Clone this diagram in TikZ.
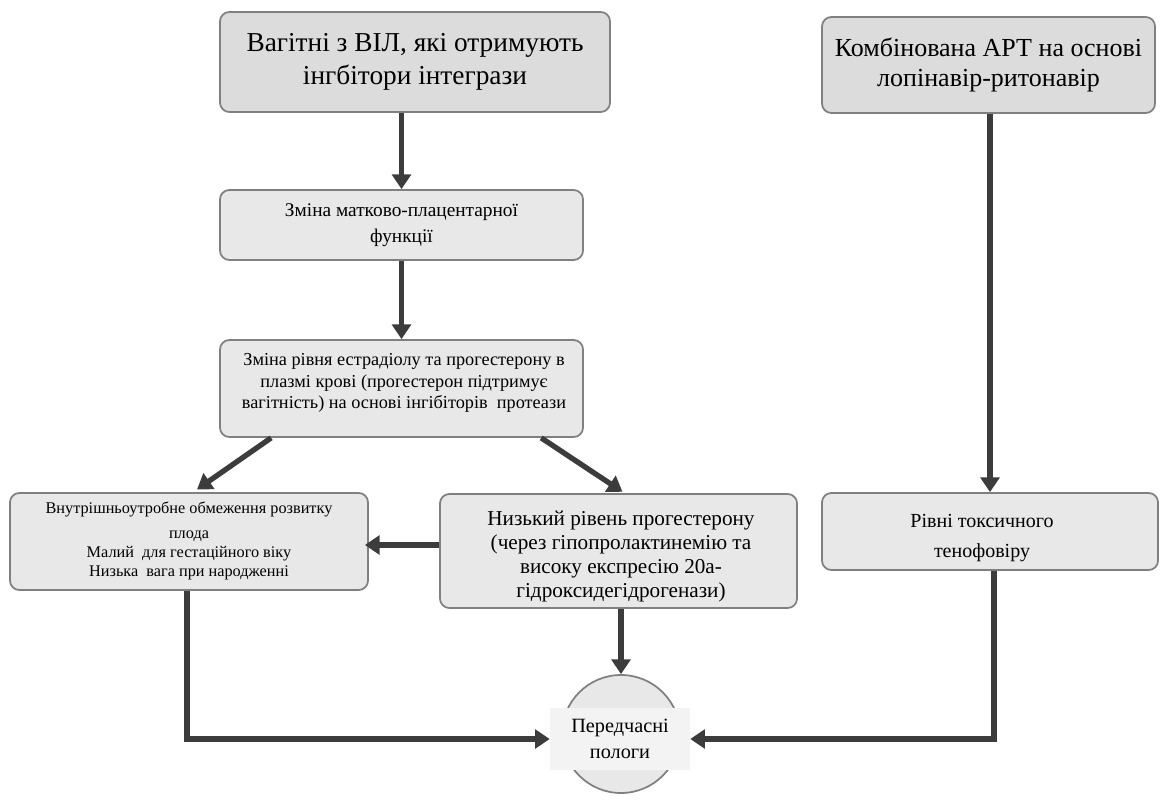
\documentclass[tikz,border=0pt]{standalone}
\usepackage{fontspec}
\newfontfamily\libser{Liberation Serif}
\usetikzlibrary{arrows.meta,shapes.geometric,calc}
\definecolor{boxfill}{HTML}{E8E8E8}
\definecolor{titlefill}{HTML}{DCDCDC}
\definecolor{boxline}{HTML}{808080}
\definecolor{arrowcol}{HTML}{3C3C3C}
\tikzset{
  box/.style={draw=boxline, line width=1.3pt, rounded corners=7pt, fill=boxfill, align=center, inner sep=2pt},
  titlebox/.style={box, fill=titlefill},
  txt/.style={align=center, inner sep=0pt},
  flow/.style={draw=arrowcol, line width=4pt, -{Triangle[length=11pt,width=14pt]}}
}
\begin{document}
\begin{tikzpicture}[x=0.75pt,y=-0.75pt]
\useasboundingbox[fill=white] (0,0) rectangle (1160,802);

\node[titlebox, minimum width=292.5pt, minimum height=75pt, font=\libser\fontsize{20.5}{24.5}\selectfont] (b1) at (415,62)
  {Вагітні з ВІЛ, які отримують\\інгбітори інтегрази};
\node[titlebox, minimum width=249.75pt, minimum height=72pt, font=\libser\fontsize{19.5}{23}\selectfont] (b2) at (988.5,65)
  {Комбінована АРТ на основі\\лопінавір-ритонавір};
\node[box, minimum width=272.25pt, minimum height=52.5pt, font=\libser\fontsize{14.5}{19.5}\selectfont] (b3) at (401.5,225)
  {Зміна матково-плацентарної\\функції};
\node[box, minimum width=272.25pt, minimum height=72.75pt] (b4) at (401.5,388.5) {};
\node[txt, font=\libser\fontsize{13.7}{16.2}\selectfont] (b4t) at (404,383)
  {Зміна рівня естрадіолу та прогестерону в\\плазмі крові (прогестерон підтримує\\вагітність) на основі інгібіторів\ \ протеази};
\node[box, minimum width=268.5pt, minimum height=72.75pt] (b5) at (189,541.5) {};
\node[txt, font=\libser\fontsize{12.2}{14.5}\selectfont] (b5t) at (189,541)
  {Внутрішньоутробне обмеження розвитку\\[4pt]плода\\Малий\ \ для гестаційного віку\\Низька\ \ вага при народженні};
\node[box, minimum width=267.75pt, minimum height=85.5pt] (b6) at (618.5,551) {};
\node[txt, font=\libser\fontsize{15.9}{18}\selectfont] (b6t) at (621,556)
  {Низький рівень прогестерону\\(через гіпопролактинемію та\\високу експресію 20а-\\гідроксидегідрогенази)};
\node[box, minimum width=252pt, minimum height=57.75pt] (b7) at (990,531.5) {};
\node[txt, font=\libser\fontsize{15}{23}\selectfont] (b7t) at (982,538)
  {Рівні токсичного\\тенофовіру};
\node[circle, draw=boxline, line width=1.3pt, fill=boxfill, minimum size=88.5pt, inner sep=0pt] (circ) at (621,734) {};
\node[fill=white!50!boxfill, minimum width=105pt, minimum height=46.5pt, align=center, font=\libser\fontsize{15.2}{19}\selectfont] (lab) at (620,739)
  {Передчасні\\пологи};

\draw[flow] (b1.south -| b3.north) -- (b3.north);
\draw[flow] (b3.south) -- (b4.north);
\draw[flow] ([xshift=39pt]b4.south west) -- ([xshift=6pt,yshift=2pt]b5.north);
\draw[flow] ([xshift=-32pt]b4.south east) -- ([xshift=3pt,yshift=1pt]b6.north);
\draw[flow] ([yshift=4.5pt]b6.west) -- ([yshift=4.5pt,xshift=-3pt]b6.west -| b5.east);
\draw[flow] (b6.south -| circ.north) -- (circ.north);
\draw[flow] ([xshift=-1.5pt]b5.south) |- (lab.west);
\draw[flow] ([xshift=3pt]b7.south) |- (lab.east);
\draw[flow] (b2.south -| b7.north) -- (b7.north);
\end{tikzpicture}
\end{document}
